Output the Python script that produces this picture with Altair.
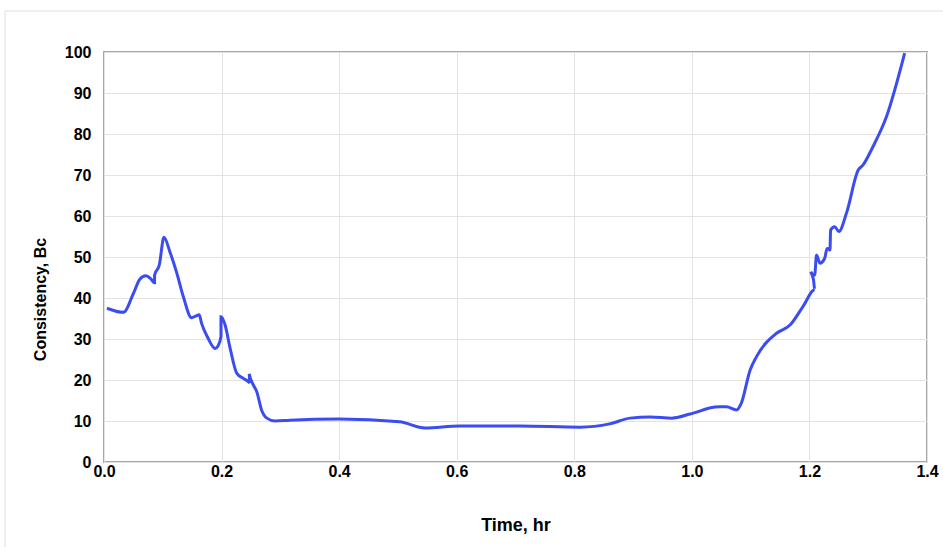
import altair as alt
import pandas as pd

time_hr = [0.005, 0.033, 0.050, 0.061, 0.071, 0.080, 0.086, 0.086, 0.094, 0.102,
           0.112, 0.124, 0.135, 0.149, 0.156, 0.162, 0.166, 0.177, 0.189, 0.194,
           0.199, 0.199, 0.206, 0.214, 0.226, 0.237, 0.248, 0.247, 0.254, 0.260,
           0.268, 0.277, 0.291, 0.316, 0.400, 0.503, 0.546, 0.605, 0.707, 0.810,
           0.860, 0.895, 0.929, 0.966, 0.997, 1.039, 1.048, 1.059, 1.076, 1.084,
           1.099, 1.110, 1.144, 1.167, 1.189, 1.209, 1.207, 1.202, 1.209, 1.212,
           1.218, 1.226, 1.230, 1.235, 1.236, 1.243, 1.250, 1.263, 1.283, 1.291,
           1.308, 1.331, 1.362]
consistency_bc = [37.5, 36.5, 41.1, 44.6, 45.4, 44.6, 43.7, 45.6, 48.0, 54.8,
                  51.3, 46.0, 40.3, 35.2, 35.6, 35.9, 33.8, 30.2, 27.7, 28.3,
                  30.6, 35.4, 33.4, 28.1, 21.6, 20.4, 19.2, 21.5, 18.8, 17.1,
                  12.7, 10.7, 10.0, 10.2, 10.5, 9.8, 8.3, 8.8, 8.8, 8.5,
                  9.3, 10.7, 11.0, 10.7, 11.7, 13.4, 13.5, 13.5, 12.7, 14.3,
                  22.4, 25.7, 31.4, 33.4, 37.9, 42.0, 44.4, 46.4, 45.6, 50.5,
                  48.5, 49.7, 52.1, 51.7, 56.6, 57.4, 56.2, 60.7, 71.2, 72.4,
                  76.9, 84.2, 99.7]

df = pd.DataFrame({"t": time_hr, "v": consistency_bc, "i": list(range(len(time_hr)))})

FONT = "Liberation Sans"

line = alt.Chart(df).mark_line(color="#3b4cf0", strokeWidth=3, interpolate="monotone").encode(
    x=alt.X("t:Q", scale=alt.Scale(domain=[0, 1.4], nice=False),
            axis=alt.Axis(title="Time, hr", values=[0, 0.2, 0.4, 0.6, 0.8, 1.0, 1.2, 1.4],
                          format=".1f", labelPadding=1, labelFlush=False,
                          titleFontSize=18, titleY=63, titleBaseline="middle")),
    y=alt.Y("v:Q", scale=alt.Scale(domain=[0, 100], nice=False),
            axis=alt.Axis(title="Consistency, Bc", values=list(range(0, 101, 10)),
                          labelPadding=13, labelFlush=False,
                          titleFontSize=16, titleX=-64, titleY=247, titleBaseline="middle")),
    order="i:Q",
)

border = alt.Chart(pd.DataFrame({"a": [0]})).mark_rect(
    fill=None, stroke="#e0e0e0", strokeWidth=1, clip=False
).encode(
    x=alt.value(-99), x2=alt.value(840), y=alt.value(-41), y2=alt.value(520)
)

chart = alt.layer(border, line).properties(
    width=823, height=410,
    autosize=alt.AutoSizeParams(type="none"),
    padding={"left": 104, "top": 52, "right": 16, "bottom": 85},
    background="white",
).configure_view(
    stroke="#a6a6a6", strokeWidth=2
).configure_axis(
    labelFont=FONT, titleFont=FONT, labelFontSize=16,
    labelFontWeight="bold", titleFontWeight="bold", labelColor="black", titleColor="black",
    gridColor="#e3e3e3", gridWidth=1, ticks=False, domain=False,
)

chart.save("out.html", embed_options={"renderer": "svg", "actions": False})
